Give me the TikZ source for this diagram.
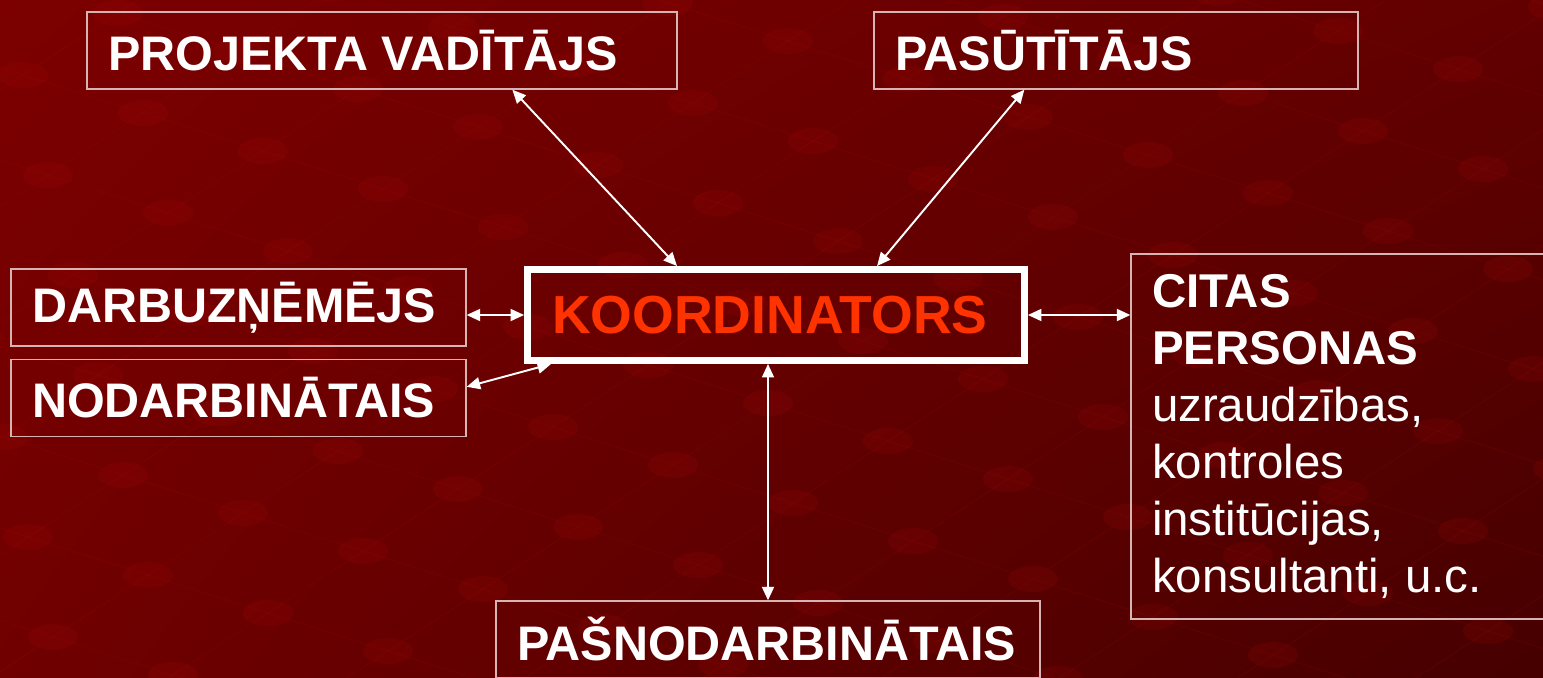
\documentclass[tikz,border=0pt]{standalone}
\usepackage{fontspec}
\setmainfont{Liberation Sans}
\usepackage{tikz}
\usetikzlibrary{calc}
\usetikzlibrary{shadings}
\usetikzlibrary{arrows.meta}
\definecolor{bgtl}{RGB}{124,0,0}
\definecolor{bgtr}{RGB}{98,0,0}
\definecolor{bgbl}{RGB}{112,0,0}
\definecolor{bgbr}{RGB}{70,0,0}
\definecolor{dotred}{RGB}{175,12,12}
\definecolor{boxline}{RGB}{215,180,180}
\definecolor{koordred}{RGB}{255,51,0}
\tikzset{box/.style={draw=boxline,line width=0.8pt,inner ysep=0,inner xsep=0.42cm,align=flush left,minimum height=1.54cm,text=white,font=\bfseries\fontsize{27.6}{32.4}\selectfont}}
\tikzset{kbox/.style={draw=white,line width=0.14cm,inner ysep=0,inner xsep=0.49cm,align=flush left,text width=8.96cm,minimum height=1.82cm,text=koordred,font=\bfseries\fontsize{30.5}{35}\selectfont}}
\tikzset{link/.style={{Triangle[length=0.27cm,width=0.24cm]}-{Triangle[length=0.27cm,width=0.24cm]},white,line width=1.1pt}}
\tikzset{bump/.style={fill=dotred,fill opacity=0.15}}
\tikzset{groove/.style={draw=dotred,opacity=0.1,line width=0.8pt}}

\begin{document}
\begin{tikzpicture}[x=0.02cm, y=-0.02cm]

\useasboundingbox (0,0) rectangle (1543,677);
\shade [upper left=bgtl, upper right=bgtr, lower left=bgbl, lower right=bgbr] (0,0) rectangle (1543,677);

% background texture
\begin{scope}
\clip (0,0) rectangle (1543,677);
\foreach \i in {-6,...,14} {\foreach \j in {-8,...,10} {
  \pgfmathsetmacro{\px}{23+\i*120+\j*95}
  \pgfmathsetmacro{\py}{75+\i*38-\j*62}
  \draw [groove] (\px,\py) -- ++(120,38);
  \draw [groove] (\px,\py) -- ++(95,-62);
  \fill [bump] (\px,\py) ellipse (25 and 13);
}}
\end{scope}

\node [box, text width=10.96cm] (pv) at (382, 50.5) {PROJEKTA VADĪTĀJS};
\node [box, text width=8.84cm] (ps) at (1116, 50.5) {PASŪTĪTĀJS};
\node [box, text width=8.26cm] (dr) at (238.5, 307.5) {DARBUZŅĒMĒJS};
\node [box, text width=8.26cm] (nd) at (238.5, 398) {NODARBINĀTAIS};
\node [kbox] (kd) at (776, 315) {KOORDINATORS};
\node [box, font=\fontsize{27}{32.4}\selectfont, text width=7.5cm, minimum height=7.3cm] (ct) at (1339.5, 436.5)
  {\textbf{CITAS}\\\textbf{PERSONAS}\\uzraudzības,\\kontroles\\institūcijas,\\konsultanti, u.c.};
\node [box, text width=10.04cm] (pn) at (768, 639.5) {PAŠNODARBINĀTAIS};

\draw [link] ($(pv.south west)+(426,0)$) -- ($(kd.north west)+(153,0)$);
\draw [link] ($(ps.south west)+(151,0)$) -- ($(kd.north west)+(353,0)$);
\draw [link] (dr.east |- kd.west) -- (kd.west);
\draw [link] ($(nd.north east)+(0,28)$) -- ($(kd.south west)+(27,0)$);
\draw [link] (kd.east) -- (ct.west |- kd.east);
\draw [link] (pn.north |- kd.south) -- (pn.north);

\end{tikzpicture}
\end{document}
